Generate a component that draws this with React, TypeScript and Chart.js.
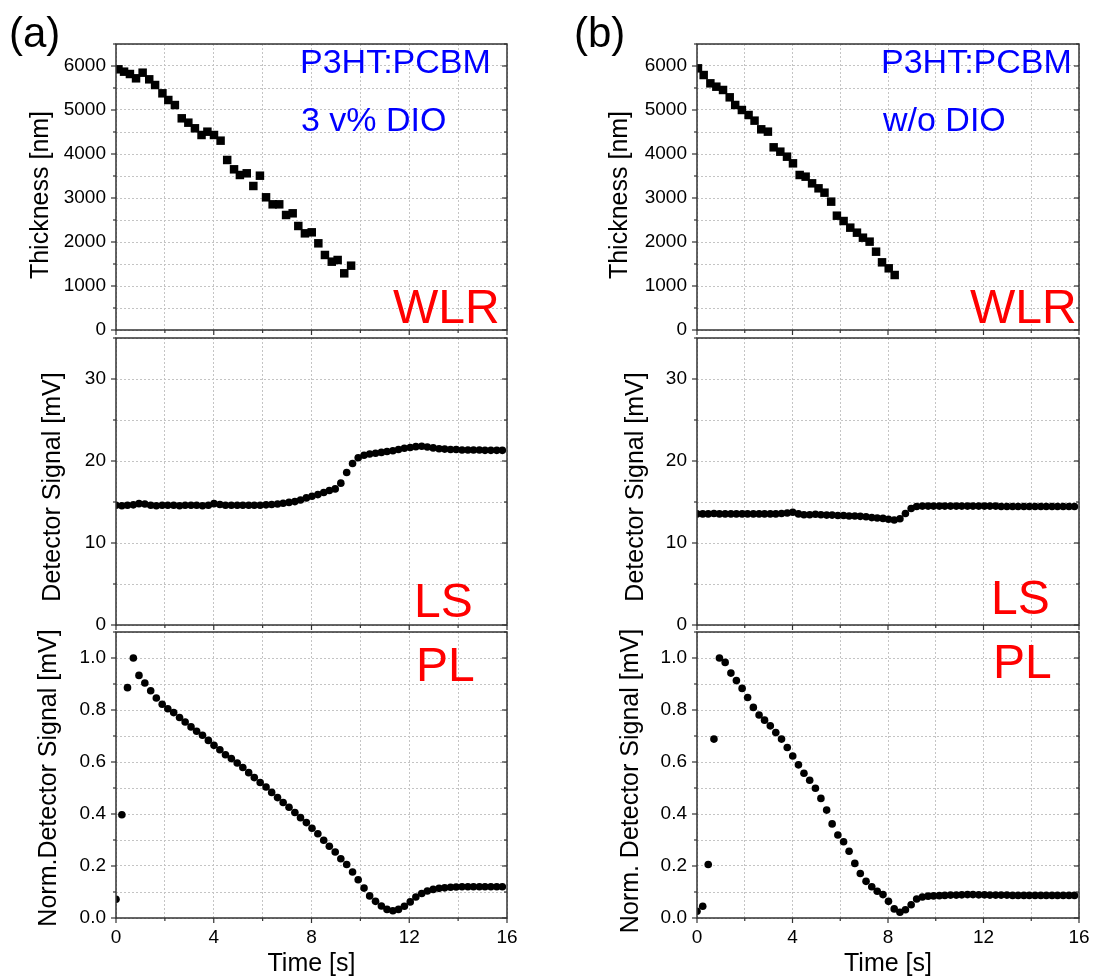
import React, { useEffect, useRef } from 'react';
import { Chart, registerables } from 'chart.js';

Chart.register(...registerables);

const FONT = '"Liberation Sans", Arial, Helvetica, sans-serif';

// ---------- DATA ----------
// sampling times of the LS / PL detector signals [s]
const TIME = [
  0, 0.24, 0.47, 0.71, 0.94, 1.18, 1.42, 1.65, 1.89, 2.12, 2.36, 2.6, 2.83, 3.07, 3.3, 3.54, 3.78,
  4.01, 4.25, 4.48, 4.72, 4.96, 5.19, 5.43, 5.66, 5.9, 6.14, 6.37, 6.61, 6.84, 7.08, 7.32, 7.55,
  7.79, 8.02, 8.26, 8.5, 8.73, 8.97, 9.2, 9.44, 9.68, 9.91, 10.15, 10.38, 10.62, 10.86, 11.09,
  11.33, 11.56, 11.8, 12.04, 12.27, 12.51, 12.74, 12.98, 13.22, 13.45, 13.69, 13.92, 14.16, 14.4,
  14.63, 14.87, 15.1, 15.34, 15.58, 15.81,
];

// (a) 3 v% DIO — WLR thickness [nm]
const WLR_A_TIME = [
  0.1, 0.33, 0.57, 0.82, 1.09, 1.36, 1.6, 1.9, 2.14, 2.41, 2.69, 2.96, 3.23, 3.5, 3.74, 4.01, 4.28,
  4.55, 4.83, 5.07, 5.35, 5.62, 5.89, 6.14, 6.41, 6.68, 6.96, 7.23, 7.46, 7.73, 8.01, 8.28, 8.55,
  8.83, 9.07, 9.34, 9.62,
];
const WLR_A_THICKNESS = [
  5925, 5871, 5818, 5720, 5848, 5697, 5568, 5379, 5227, 5113, 4811, 4712, 4584, 4432, 4507, 4432,
  4303, 3864, 3652, 3523, 3561, 3273, 3507, 3016, 2856, 2856, 2614, 2652, 2364, 2197, 2220, 1970,
  1705, 1553, 1591, 1288, 1462,
];

// (b) w/o DIO — WLR thickness [nm]
const WLR_B_TIME = [
  0.04, 0.28, 0.56, 0.81, 1.09, 1.37, 1.6, 1.88, 2.16, 2.41, 2.69, 2.97, 3.21, 3.49, 3.77, 4.02,
  4.3, 4.55, 4.82, 5.09, 5.34, 5.62, 5.86, 6.14, 6.42, 6.7, 6.95, 7.23, 7.5, 7.75, 8.03, 8.28,
];
const WLR_B_THICKNESS = [
  5947, 5795, 5606, 5530, 5455, 5288, 5114, 5000, 4886, 4758, 4561, 4508, 4152, 4053, 3939, 3788,
  3523, 3485, 3333, 3220, 3121, 2917, 2598, 2477, 2326, 2212, 2098, 2008, 1780, 1538, 1402, 1250,
];

// LS detector signal [mV]
const LS_A_SIGNAL = [
  14.6, 14.55, 14.6, 14.65, 14.8, 14.75, 14.6, 14.55, 14.6, 14.6, 14.6, 14.55, 14.6, 14.6, 14.6,
  14.55, 14.6, 14.8, 14.7, 14.6, 14.6, 14.6, 14.6, 14.6, 14.6, 14.6, 14.65, 14.7, 14.75, 14.85,
  14.95, 15.05, 15.25, 15.5, 15.7, 15.9, 16.15, 16.4, 16.6, 17.3, 18.6, 19.7, 20.4, 20.7, 20.85,
  20.95, 21.05, 21.15, 21.25, 21.4, 21.55, 21.65, 21.75, 21.8, 21.7, 21.6, 21.5, 21.45, 21.4, 21.4,
  21.35, 21.35, 21.35, 21.35, 21.3, 21.3, 21.3, 21.3,
];
const LS_B_SIGNAL = [
  13.55, 13.55, 13.55, 13.6, 13.55, 13.55, 13.55, 13.55, 13.55, 13.55, 13.55, 13.55, 13.55, 13.55,
  13.55, 13.6, 13.65, 13.75, 13.55, 13.45, 13.45, 13.5, 13.45, 13.4, 13.4, 13.35, 13.35, 13.3, 13.3,
  13.25, 13.2, 13.1, 13.05, 13.0, 12.9, 12.8, 12.95, 13.6, 14.2, 14.45, 14.5, 14.5, 14.5, 14.5,
  14.5, 14.5, 14.5, 14.5, 14.5, 14.5, 14.5, 14.5, 14.5, 14.5, 14.45, 14.45, 14.45, 14.45, 14.45,
  14.45, 14.45, 14.45, 14.45, 14.45, 14.45, 14.45, 14.45, 14.45,
];

// PL normalised detector signal
const PL_A_SIGNAL = [
  0.072, 0.397, 0.886, 1.0, 0.933, 0.904, 0.874, 0.846, 0.822, 0.805, 0.79, 0.771, 0.754, 0.735,
  0.718, 0.703, 0.683, 0.664, 0.647, 0.628, 0.613, 0.596, 0.579, 0.559, 0.54, 0.521, 0.504, 0.483,
  0.463, 0.444, 0.426, 0.406, 0.386, 0.367, 0.345, 0.324, 0.299, 0.276, 0.254, 0.228, 0.206, 0.177,
  0.147, 0.115, 0.085, 0.064, 0.046, 0.033, 0.028, 0.033, 0.045, 0.062, 0.081, 0.094, 0.104, 0.11,
  0.114, 0.116, 0.118, 0.119, 0.12, 0.12, 0.12, 0.12, 0.12, 0.12, 0.12, 0.12,
];
const PL_B_SIGNAL = [
  0.026, 0.045, 0.206, 0.688, 1.0, 0.983, 0.942, 0.913, 0.883, 0.848, 0.81, 0.781, 0.761, 0.739,
  0.713, 0.688, 0.656, 0.623, 0.589, 0.557, 0.53, 0.499, 0.46, 0.415, 0.362, 0.319, 0.293, 0.257,
  0.21, 0.171, 0.141, 0.12, 0.103, 0.09, 0.064, 0.035, 0.022, 0.032, 0.051, 0.073, 0.081, 0.084,
  0.085, 0.086, 0.087, 0.088, 0.088, 0.089, 0.09, 0.09, 0.089, 0.089, 0.088, 0.088, 0.088, 0.088,
  0.087, 0.087, 0.087, 0.087, 0.087, 0.087, 0.087, 0.087, 0.087, 0.087, 0.087, 0.087,
];

const X_MAX = 16;
const X_STEP = 2;
const X_LABEL_EVERY = 4;

// ---------- LAYOUT ----------
const COL_A = { left: 0, width: 520, areaLeft: 116, areaRight: 507 };
const COL_B = { left: 560, width: 543, areaLeft: 697, areaRight: 1079 };
const ROW_TOP = { top: 0, height: 336, areaTop: 44, areaBottom: 331 };
const ROW_MID = { top: 334, height: 296, areaTop: 338, areaBottom: 625 };
const ROW_BOT = { top: 628, height: 351, areaTop: 632, areaBottom: 918 };

type TextItem = { text: string; x: number; y: number; color: string; size: number };
type Col = typeof COL_A;
type Row = typeof ROW_TOP;

type PanelProps = {
  col: Col;
  row: Row;
  xs: number[];
  ys: number[];
  square?: boolean;
  yMax: number;
  yStep: number;
  yLabelEvery: number;
  yDecimals: number;
  yTitle: string;
  yTitleX: number;
  yTitleY: number;
  showX: boolean;
  texts: TextItem[];
};

const TICK_SIZE = 19;
const TITLE_SIZE = 25;

const isMultiple = (v: number, every: number) => Math.abs(v / every - Math.round(v / every)) < 1e-6;

function Panel(p: PanelProps) {
  const ref = useRef<HTMLCanvasElement | null>(null);
  useEffect(() => {
    const canvas = ref.current;
    if (!canvas) return;
    const { col, row } = p;
    const pts = p.xs.map((x, i) => ({ x, y: p.ys[i] }));
    const yW = col.areaLeft - col.left;
    const xH = row.top + row.height - row.areaBottom;
    const tickFont = { family: FONT, size: TICK_SIZE };
    const titleFont = { family: FONT, size: TITLE_SIZE };

    const framePlugin = {
      id: 'frame',
      afterDatasetsDraw(chart: any) {
        const { ctx, chartArea: a, scales } = chart;
        const xs = scales.x;
        const ys = scales.y;
        ctx.save();
        ctx.strokeStyle = '#333';
        ctx.lineWidth = 1.2;
        const seg = (x1: number, y1: number, x2: number, y2: number) => {
          ctx.beginPath();
          ctx.moveTo(x1, y1);
          ctx.lineTo(x2, y2);
          ctx.stroke();
        };
        ys.ticks.forEach((t: any) => {
          const py = ys.getPixelForValue(t.value);
          const L = isMultiple(t.value, p.yLabelEvery) ? 5 : 3;
          seg(a.left - L, py, a.left, py);
          seg(a.right - L, py, a.right, py);
        });
        xs.ticks.forEach((t: any) => {
          const px = xs.getPixelForValue(t.value);
          const L = isMultiple(t.value, X_LABEL_EVERY) ? 5 : 3;
          seg(px, a.bottom, px, a.bottom + L);
        });
        ctx.lineWidth = 1.5;
        ctx.strokeRect(a.left, a.top, a.right - a.left, a.bottom - a.top);
        // y axis title (rotated)
        ctx.save();
        ctx.translate(p.yTitleX - col.left, p.yTitleY - row.top);
        ctx.rotate(-Math.PI / 2);
        ctx.font = `${TITLE_SIZE}px ${FONT}`;
        ctx.fillStyle = '#000';
        ctx.textAlign = 'center';
        ctx.textBaseline = 'middle';
        ctx.fillText(p.yTitle, 0, 0);
        ctx.restore();
        p.texts.forEach((t) => {
          ctx.font = `${t.size}px ${FONT}`;
          ctx.fillStyle = t.color;
          ctx.textBaseline = 'alphabetic';
          ctx.textAlign = 'left';
          ctx.fillText(t.text, t.x - col.left, t.y - row.top);
        });
        ctx.restore();
      },
    };

    const radius = p.square ? 6 : 3.8;
    const chart = new Chart(canvas, {
      type: 'scatter',
      data: {
        datasets: [
          {
            data: pts,
            pointStyle: p.square ? 'rect' : 'circle',
            pointRadius: radius,
            pointHoverRadius: radius,
            backgroundColor: '#000',
            borderColor: '#000',
            borderWidth: 0,
            clip: 0,
          } as any,
        ],
      },
      options: {
        animation: false,
        responsive: false,
        devicePixelRatio: 1,
        events: [],
        layout: {
          padding: {
            left: 0,
            top: row.areaTop - row.top,
            right: col.left + col.width - col.areaRight,
            bottom: 0,
          },
        },
        plugins: { legend: { display: false }, tooltip: { enabled: false } },
        scales: {
          x: {
            type: 'linear',
            position: 'bottom',
            min: 0,
            max: X_MAX,
            afterFit: (s: any) => {
              s.height = xH;
              s.paddingLeft = 0;
              s.paddingRight = 0;
            },
            ticks: {
              stepSize: X_STEP,
              autoSkip: false,
              maxRotation: 0,
              display: p.showX,
              padding: 8,
              color: '#000',
              font: tickFont,
              callback: (v: any) => (isMultiple(Number(v), X_LABEL_EVERY) ? String(Math.round(Number(v))) : ''),
            },
            grid: { color: '#c4c4c4', lineWidth: 1, drawTicks: false },
            border: { display: false, dash: [2, 2] },
            title: {
              display: p.showX,
              text: 'Time [s]',
              color: '#000',
              font: titleFont,
              padding: { top: 0, bottom: 0 },
            },
          },
          y: {
            type: 'linear',
            position: 'left',
            min: 0,
            max: p.yMax,
            afterFit: (s: any) => {
              s.width = yW;
              s.paddingTop = 0;
              s.paddingBottom = 0;
            },
            ticks: {
              stepSize: p.yStep,
              autoSkip: false,
              padding: 10,
              color: '#000',
              font: tickFont,
              callback: (v: any) =>
                isMultiple(Number(v), p.yLabelEvery) ? Number(v).toFixed(p.yDecimals) : '',
            },
            grid: { color: '#c4c4c4', lineWidth: 1, drawTicks: false },
            border: { display: false, dash: [2, 2] },
            title: { display: false },
          },
        },
      } as any,
      plugins: [framePlugin],
    });
    return () => chart.destroy();
  }, []);
  return (
    <canvas
      ref={ref}
      width={p.col.width}
      height={p.row.height}
      style={{
        position: 'absolute',
        left: p.col.left,
        top: p.row.top,
        width: p.col.width,
        height: p.row.height,
      }}
    />
  );
}

const RED = '#ff0000';
const BLUE = '#0000ff';

export default function App() {
  return (
    <div style={{ position: 'absolute', left: 0, top: 0, width: 1103, height: 979, background: '#fff' }}>
      {/* column (a) */}
      <Panel
        col={COL_A}
        row={ROW_TOP}
        xs={WLR_A_TIME}
        ys={WLR_A_THICKNESS}
        square
        yMax={6500}
        yStep={500}
        yLabelEvery={1000}
        yDecimals={0}
        yTitle="Thickness [nm]"
        yTitleX={41}
        yTitleY={195}
        showX={false}
        texts={[
          { text: '(a)', x: 9, y: 47, color: '#000', size: 42 },
          { text: 'P3HT:PCBM', x: 300, y: 73, color: BLUE, size: 34 },
          { text: '3 v% DIO', x: 301, y: 131, color: BLUE, size: 34 },
          { text: 'WLR', x: 393, y: 323, color: RED, size: 48 },
        ]}
      />
      <Panel
        col={COL_A}
        row={ROW_MID}
        xs={TIME}
        ys={LS_A_SIGNAL}
        yMax={35}
        yStep={5}
        yLabelEvery={10}
        yDecimals={0}
        yTitle="Detector Signal [mV]"
        yTitleX={53}
        yTitleY={487}
        showX={false}
        texts={[{ text: 'LS', x: 414, y: 617, color: RED, size: 48 }]}
      />
      <Panel
        col={COL_A}
        row={ROW_BOT}
        xs={TIME}
        ys={PL_A_SIGNAL}
        yMax={1.1}
        yStep={0.1}
        yLabelEvery={0.2}
        yDecimals={1}
        yTitle="Norm.Detector Signal [mV]"
        yTitleX={49}
        yTitleY={778}
        showX
        texts={[{ text: 'PL', x: 416, y: 681, color: RED, size: 48 }]}
      />
      {/* column (b) */}
      <Panel
        col={COL_B}
        row={ROW_TOP}
        xs={WLR_B_TIME}
        ys={WLR_B_THICKNESS}
        square
        yMax={6500}
        yStep={500}
        yLabelEvery={1000}
        yDecimals={0}
        yTitle="Thickness [nm]"
        yTitleX={620}
        yTitleY={195}
        showX={false}
        texts={[
          { text: '(b)', x: 574, y: 47, color: '#000', size: 42 },
          { text: 'P3HT:PCBM', x: 881, y: 73, color: BLUE, size: 34 },
          { text: 'w/o DIO', x: 883, y: 131, color: BLUE, size: 34 },
          { text: 'WLR', x: 970, y: 323, color: RED, size: 48 },
        ]}
      />
      <Panel
        col={COL_B}
        row={ROW_MID}
        xs={TIME}
        ys={LS_B_SIGNAL}
        yMax={35}
        yStep={5}
        yLabelEvery={10}
        yDecimals={0}
        yTitle="Detector Signal [mV]"
        yTitleX={636}
        yTitleY={487}
        showX={false}
        texts={[{ text: 'LS', x: 991, y: 614, color: RED, size: 48 }]}
      />
      <Panel
        col={COL_B}
        row={ROW_BOT}
        xs={TIME}
        ys={PL_B_SIGNAL}
        yMax={1.1}
        yStep={0.1}
        yLabelEvery={0.2}
        yDecimals={1}
        yTitle="Norm. Detector Signal [mV]"
        yTitleX={631}
        yTitleY={781}
        showX
        texts={[{ text: 'PL', x: 993, y: 678, color: RED, size: 48 }]}
      />
    </div>
  );
}
